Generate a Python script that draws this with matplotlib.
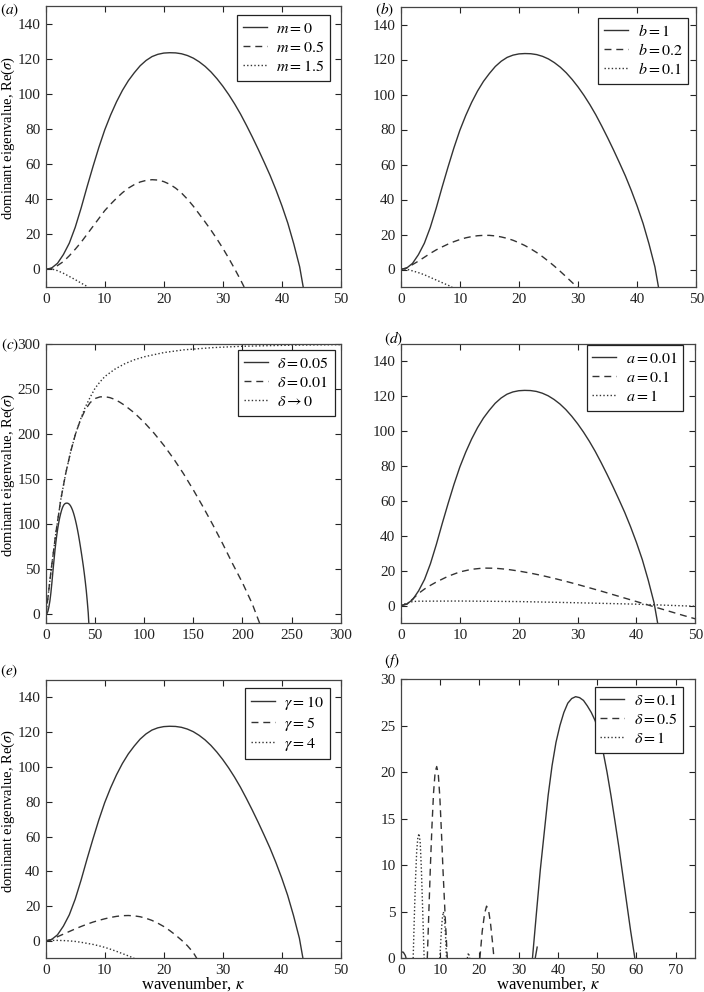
import matplotlib
matplotlib.use("Agg")
import matplotlib.pyplot as plt

plt.rcParams['font.family'] = ['Liberation Serif', 'DejaVu Serif']
plt.rcParams['mathtext.fontset'] = 'stix'
plt.rcParams['font.size'] = 11

# ---------------- data ----------------
# base dispersion curve (m=0, b=1, a=0.01, gamma=10, delta=0.05)
base_k = [0, 1, 2, 3, 4, 5, 6, 7, 8, 9, 10, 11, 12, 13, 14, 15, 16, 17, 18, 19, 20,
          21, 22, 23, 24, 25, 26, 27, 28, 29, 30, 31, 32, 33, 34, 35, 36, 37, 38,
          39, 40, 41, 42, 43, 43.6]
base_y = [0, 0.8, 3.5, 8.5, 15, 24, 35, 47, 58.5, 69.5, 79.5, 88, 95.5, 102, 107.5,
          112, 116, 119, 121.2, 122.5, 123.2, 123.4, 123.3, 122.8, 121.8, 120.3, 118.2,
          115.6, 112.4, 108.6, 104.3, 99.5, 94.2, 88.4, 82, 75.3, 68.3, 61, 53.5, 45.2,
          36.2, 26.3, 14.6, 1.5, -10]

# (a) m
m05_k = [0, 1, 2, 3, 4, 5, 6, 7, 8, 9, 10, 11, 12, 13, 14, 15, 16, 17, 18, 19, 20,
         21, 22, 23, 24, 25, 26, 27, 28, 29, 30, 31, 32, 33, 33.6]
m05_y = [0, 0.6, 2.2, 4.5, 7.8, 11.5, 15.5, 20, 24.5, 29, 33.5, 37.2, 40.6, 43.7,
         46.3, 48.3, 49.8, 50.7, 51.1, 50.9, 50, 48.5, 46.3, 43.5, 40, 36, 31.5, 27,
         22.3, 17.3, 12, 6.3, 0.3, -6, -10]
m15_k = [0, 1, 2, 3, 4, 5, 6, 7.2]
m15_y = [0, 0.3, -0.7, -2.2, -4, -5.8, -7.8, -10]

# (b) b
b02_k = [0, 1, 2, 3, 4, 5, 6, 7, 8, 9, 10, 11, 12, 13, 14, 15, 16, 17, 18, 19, 20,
         21, 22, 23, 24, 25, 26, 27, 28, 29, 30, 30.5]
b02_y = [0, 0.9, 2.8, 4.8, 7, 9.2, 11.2, 12.9, 14.5, 15.9, 17.1, 18.1, 18.8, 19.3,
         19.5, 19.5, 19.2, 18.6, 17.8, 16.7, 15.3, 13.7, 11.8, 9.7, 7.3, 4.7, 1.9,
         -1.1, -4.2, -7.4, -10.5, -12]
b01_k = [0, 1, 2, 3, 4, 5, 6, 7, 8.7]
b01_y = [0, 0.2, -0.8, -1.8, -3, -4.5, -6, -7.5, -10]

# (c) delta
d001_k = [0, 5, 10, 15, 20, 25, 30, 35, 40, 45, 50, 55, 60, 65, 70, 75, 80, 90, 100,
          110, 120, 130, 140, 150, 160, 170, 180, 190, 200, 210, 217.5]
d001_y = [0, 47, 90, 127, 156, 180, 200, 215.5, 227, 235, 239.5, 241.3, 241.5, 240.5,
          238.5, 235.5, 232, 223.5, 213, 201, 187.5, 172.5, 156, 138, 119, 99, 78,
          56, 35, 11.5, -10]
d0_k = [0, 5, 10, 15, 20, 25, 30, 35, 40, 45, 50, 55, 60, 70, 80, 90, 100, 120, 140,
        170, 200, 250, 300]
d0_y = [0, 47, 90, 127, 156, 180, 200, 216, 230, 241, 251, 258, 264, 272, 278, 282.5,
        285.8, 290.5, 293.5, 296, 297.5, 298.7, 299.3]

# (d) a
a01_k = [0, 1, 2, 3, 4, 5, 6, 8, 10, 12, 14, 16, 18, 20, 22, 24, 26, 28, 30, 32, 34,
         36, 38, 40, 42, 44, 46, 48, 50]
a01_y = [0, 0.9, 3.8, 7, 9.5, 11.6, 13.5, 16.8, 19.3, 20.8, 21.5, 21.4, 20.8, 19.8,
         18.6, 17.2, 15.6, 13.9, 12.1, 10.2, 8.3, 6.3, 4.3, 2.3, 0.3, -1.7, -3.7,
         -5.7, -7.6]
a1_k = [0, 1, 2, 3, 10, 20, 30, 40, 50]
a1_y = [0, 1.5, 2.3, 2.5, 2.6, 2.3, 1.6, 0.8, -0.4]

# (e) gamma
g5_k = [0, 1, 2, 3, 4, 5, 6, 7, 8, 9, 10, 11, 12, 13, 14, 15, 16, 17, 18, 19, 20,
        21, 22, 23, 24, 25, 25.6]
g5_y = [0, 0.8, 2.4, 3.9, 5.4, 6.9, 8.3, 9.6, 10.8, 11.8, 12.7, 13.5, 14.1, 14.5,
        14.6, 14.4, 13.9, 13, 11.8, 10.2, 8.3, 6, 3.4, 0.5, -2.7, -6.6, -10]
g4_k = [0, 1, 2, 3, 4, 5, 6, 7, 8, 9, 10, 11, 12, 13, 14, 15]
g4_y = [0, 0.3, 0.3, 0.2, 0, -0.3, -0.8, -1.4, -2, -2.8, -3.7, -4.8, -6, -7.3, -8.6, -10]

# (f) delta (disconnected unstable bands)
f01_k = [33.5, 34.5, 35.5, 36.5, 37.5, 38.5, 39.5, 40.5, 41.5, 42.5, 43.5, 44.5,
         45.5, 46.5, 47.5, 48.5, 49.5, 50.5, 51.5, 52.5, 53.5, 54.5, 55.5, 56.5,
         57.5, 58.5, 59.6]
f01_y = [0, 4.8, 9.5, 13.5, 17.5, 20.7, 23.2, 25, 26.4, 27.4, 27.9, 28.1, 28, 27.7,
         27.1, 26.4, 25.5, 24, 22.2, 20, 17.5, 14.8, 12, 9, 6, 3, 0]
f01b_k = [0, 0.6, 1.1, 1.3]
f01b_y = [0.7, 0.65, 0.3, 0]
f01c_k = [34.2, 34.7]
f01c_y = [0, 1.2]
f05_k = [6.7, 7.1, 7.5, 7.9, 8.3, 8.7, 9.1, 9.5, 9.9, 10.3, 10.7, 11.2, 11.8]
f05_y = [0, 5, 10, 14.3, 17.8, 20, 20.6, 19.8, 17.3, 13.6, 9.5, 5, 0]
f05b_k = [20.1, 20.7, 21.3, 21.8, 22.3, 22.8, 23.3, 23.7]
f05b_y = [0, 2.9, 4.8, 5.6, 5.2, 3.8, 1.8, 0]
f1_k = [3.1, 3.4, 3.7, 4.0, 4.3, 4.6, 4.9, 5.2, 5.5, 5.9]
f1_y = [0, 4.5, 8.5, 11.5, 13, 13.4, 12.4, 9.5, 5.5, 0]
f1b_k = [9.9, 10.2, 10.5, 10.8, 11.1, 11.4, 11.6]
f1b_y = [0, 2.3, 4.2, 5, 4.3, 2, 0]
f1c_k = [16.9, 17.2, 17.5]
f1c_y = [0, 0.6, 0]

# ---------------- figure ----------------
W, H = 704, 992
fig = plt.figure(figsize=(W / 100, H / 100), dpi=100)

LC = '#333333'
SOLID = dict(color=LC, lw=1.0, linestyle='-')
DASH = dict(color=LC, lw=1.0, linestyle=(0, (5, 3.5)))
DOT = dict(color=LC, lw=1.0, linestyle=(0, (1, 1.6)))


def make_ax(left, top, right, bottom):
    return fig.add_axes([left / W, 1 - bottom / H, (right - left) / W, (bottom - top) / H])


def style(ax, xlim, ylim, xticks, yticks):
    ax.set_xlim(*xlim)
    ax.set_ylim(*ylim)
    ax.set_xticks(xticks)
    ax.set_yticks(yticks)
    ax.tick_params(direction='in', top=True, right=True, length=4, width=0.8,
                   colors='#222222', labelsize=11, pad=4)
    for s in ax.spines.values():
        s.set_color('#444444')
        s.set_linewidth(0.9)


def legend(ax, dx, dy):
    w = ax.get_position().width * W
    h = ax.get_position().height * H
    lg = ax.legend(loc='upper right', bbox_to_anchor=(1 - dx / w, 1 - dy / h),
                   borderaxespad=0, fancybox=False, framealpha=1, edgecolor='#222222',
                   fontsize=11.5, handlelength=1.5, handletextpad=0.6,
                   labelspacing=0.2, borderpad=0.35)
    lg.get_frame().set_linewidth(0.9)


def ylab(ax):
    ax.set_ylabel(r'dominant eigenvalue, Re($\sigma$)', fontsize=10.5)
    ax.yaxis.set_label_coords(-0.097, 0.53)


xlab = r'wavenumber, $\kappa$'
y150 = [0, 20, 40, 60, 80, 100, 120, 140]
x50 = [0, 10, 20, 30, 40, 50]

# (a)
ax = make_ax(45.7, 6, 341, 287)
ax.plot(base_k, base_y, label=r'$m = 0$', **SOLID)
ax.plot(m05_k, m05_y, label=r'$m = 0.5$', **DASH)
ax.plot(m15_k, m15_y, label=r'$m = 1.5$', **DOT)
style(ax, (0, 50), (-10, 150), x50, y150)
ylab(ax)
legend(ax, 11, 9)

# (b)
ax = make_ax(400.7, 7, 696.3, 287)
ax.plot(base_k, base_y, label=r'$b = 1$', **SOLID)
ax.plot(b02_k, b02_y, label=r'$b = 0.2$', **DASH)
ax.plot(b01_k, b01_y, label=r'$b = 0.1$', **DOT)
style(ax, (0, 50), (-10, 150), x50, y150)
legend(ax, 8, 11)

# (c)
ax = make_ax(46, 344, 340.7, 623.3)
ax.plot(base_k, base_y, label=r'$\delta = 0.05$', **SOLID)
ax.plot(d001_k, d001_y, label=r'$\delta = 0.01$', **DASH)
ax.plot(d0_k, d0_y, label=r'$\delta \rightarrow 0$', **DOT)
style(ax, (0, 300), (-10, 300), [0, 50, 100, 150, 200, 250, 300],
      [0, 50, 100, 150, 200, 250, 300])
ylab(ax)
legend(ax, 6, 6)

# (d)
ax = make_ax(401, 344, 695.3, 623)
ax.plot(base_k, base_y, label=r'$a = 0.01$', **SOLID)
ax.plot(a01_k, a01_y, label=r'$a = 0.1$', **DASH)
ax.plot(a1_k, a1_y, label=r'$a = 1$', **DOT)
style(ax, (0, 50), (-10, 150), x50, y150)
legend(ax, 12, 1)

# (e)
ax = make_ax(45.7, 680, 340.7, 958.3)
ax.plot(base_k, base_y, label=r'$\gamma = 10$', **SOLID)
ax.plot(g5_k, g5_y, label=r'$\gamma = 5$', **DASH)
ax.plot(g4_k, g4_y, label=r'$\gamma = 4$', **DOT)
style(ax, (0, 50), (-10, 150), x50, y150)
ylab(ax)
ax.set_xlabel(xlab, fontsize=12, labelpad=-1)
legend(ax, 11, 8)

# (f)
ax = make_ax(401, 679, 695.3, 958.3)
ax.plot(f01_k, f01_y, label=r'$\delta = 0.1$', **SOLID)
ax.plot(f01b_k, f01b_y, **SOLID)
ax.plot(f01c_k, f01c_y, **SOLID)
ax.plot(f05_k, f05_y, label=r'$\delta = 0.5$', **DASH)
ax.plot(f05b_k, f05b_y, **DASH)
ax.plot(f1_k, f1_y, label=r'$\delta = 1$', **DOT)
ax.plot(f1b_k, f1b_y, **DOT)
ax.plot(f1c_k, f1c_y, **DOT)
style(ax, (0, 75), (0, 30), [0, 10, 20, 30, 40, 50, 60, 70], [0, 5, 10, 15, 20, 25, 30])
ax.set_xlabel(xlab, fontsize=12, labelpad=-1)
legend(ax, 12, 8)

# panel labels
for lab, px, py in [('a', 0, 2), ('b', 375, 1), ('c', 1, 337), ('d', 384, 330),
                    ('e', 0, 663), ('f', 384, 652)]:
    fig.text(px / W, 1 - py / H, r'$(%s)$' % lab, ha='left', va='top', fontsize=11)

fig.savefig('out.png', dpi=100)
